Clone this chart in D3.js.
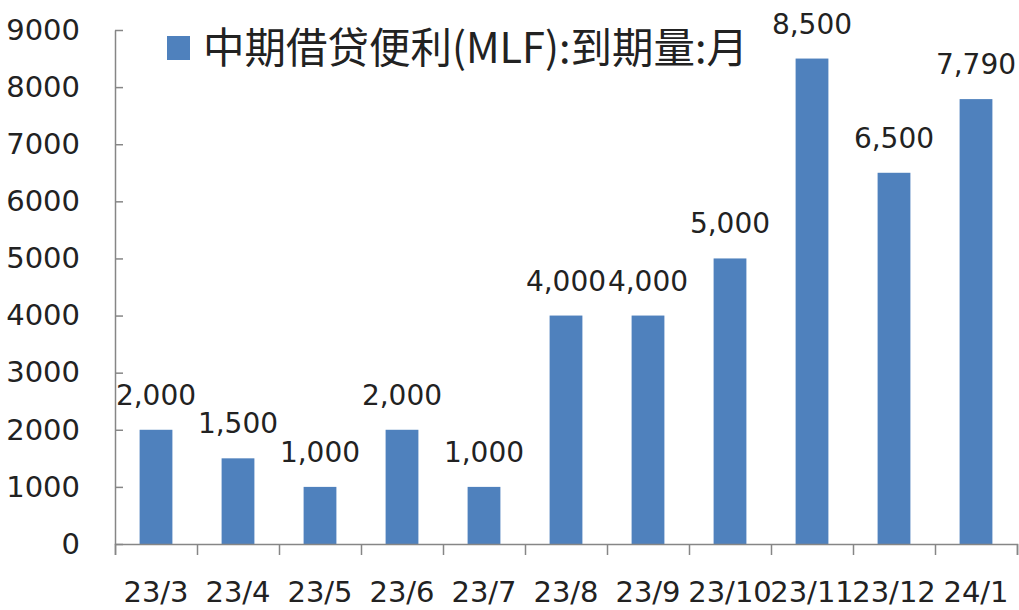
<!DOCTYPE html>
<html>
<head>
<meta charset="utf-8">
<script src="https://cdn.jsdelivr.net/npm/d3@7"></script>
<style>
  body { margin: 0; background: #fff; }
  svg { display: block; }
</style>
</head>
<body>
<svg id="chart" width="1019" height="610"></svg>
<script>
// MLF maturities by month
var months = ["23/3", "23/4", "23/5", "23/6", "23/7", "23/8", "23/9", "23/10", "23/11", "23/12", "24/1"];
var amounts = [2000, 1500, 1000, 2000, 1000, 4000, 4000, 5000, 8500, 6500, 7790];
var yTicks = [0, 1000, 2000, 3000, 4000, 5000, 6000, 7000, 8000, 9000];
var legendLabel = "中期借贷便利(MLF):到期量:月";

var plotLeft = 115, plotRight = 1017, plotTop = 30, plotBottom = 544;
var barColor = "#4f81bd";
var numFont = "'DejaVu Sans', sans-serif";

var svg = d3.select("#chart");

var x = d3.scaleBand()
    .domain(months)
    .range([plotLeft, plotRight])
    .paddingInner(0.6)
    .paddingOuter(0.3);

var y = d3.scaleLinear()
    .domain([0, 9000])
    .range([plotBottom, plotTop]);

// bars
svg.selectAll("rect.bar")
    .data(amounts)
    .enter()
    .append("rect")
    .attr("class", "bar")
    .attr("x", function (d, i) { return x(months[i]); })
    .attr("y", function (d) { return y(d); })
    .attr("width", x.bandwidth())
    .attr("height", function (d) { return y(0) - y(d); })
    .attr("fill", barColor);

// value labels
svg.selectAll("text.val")
    .data(amounts)
    .enter()
    .append("text")
    .attr("class", "val")
    .attr("x", function (d, i) { return x(months[i]) + x.bandwidth() / 2; })
    .attr("y", function (d) { return y(d) - 25; })
    .attr("text-anchor", "middle")
    .style("font-family", numFont)
    .style("font-size", "28px")
    .style("fill", "#222")
    .text(function (d) { return d3.format(",")(d); });

// y axis, ticks pointing inward, plain numbers
var yAxis = svg.append("g")
    .attr("transform", "translate(" + plotLeft + ",0)")
    .call(d3.axisLeft(y).tickValues(yTicks).tickFormat(d3.format("d"))
        .tickSizeInner(-8).tickSizeOuter(0).tickPadding(35));
yAxis.selectAll("text")
    .style("font-family", numFont)
    .style("font-size", "29px")
    .style("fill", "#222");

// x axis: ticks at category boundaries, labels centered
var xEdge = d3.scaleLinear().domain([0, months.length]).range([plotLeft, plotRight]);
svg.append("g")
    .attr("transform", "translate(0," + plotBottom + ")")
    .call(d3.axisBottom(xEdge).tickValues(d3.range(months.length + 1)).tickSize(11).tickFormat(""));

var xAxis = svg.append("g")
    .attr("transform", "translate(0," + plotBottom + ")")
    .call(d3.axisBottom(x).tickSize(0).tickPadding(37));
xAxis.select(".domain").remove();
xAxis.selectAll("text")
    .style("font-family", numFont)
    .style("font-size", "29px")
    .style("fill", "#222");

svg.selectAll(".domain, .tick line").attr("stroke", "#868686").attr("stroke-width", 1.5);

// legend
svg.append("rect")
    .attr("x", 167).attr("y", 36)
    .attr("width", 23).attr("height", 24)
    .attr("fill", barColor);
svg.append("text")
    .attr("x", 203).attr("y", 63)
    .attr("textLength", 545)
    .attr("lengthAdjust", "spacingAndGlyphs")
    .style("font-family", "'Noto Sans CJK SC', sans-serif")
    .style("font-size", "42px")
    .style("fill", "#222")
    .text(legendLabel);
</script>
</body>
</html>
